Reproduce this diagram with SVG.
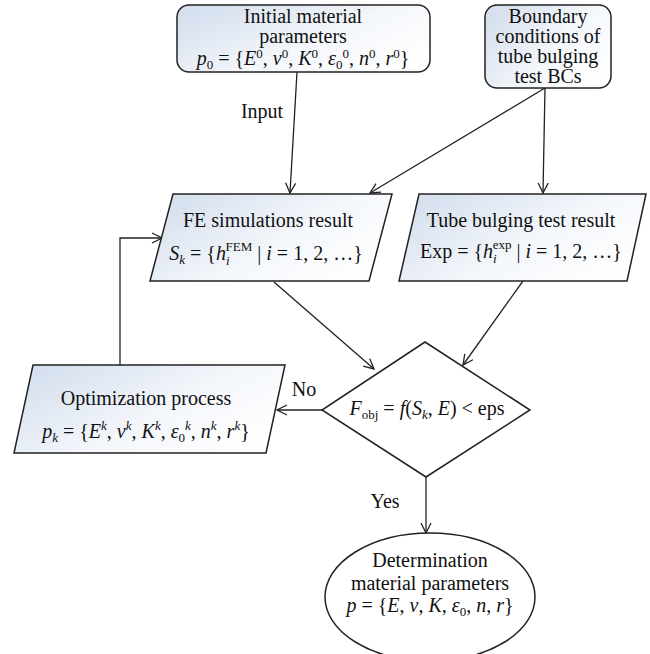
<svg xmlns="http://www.w3.org/2000/svg" width="650" height="654" viewBox="0 0 650 654">
  <defs>
    <linearGradient id="shade" x1="0" y1="0.2" x2="1" y2="0.8">
      <stop offset="0" stop-color="#d5dfee"/>
      <stop offset="0.55" stop-color="#f4f7fb"/>
      <stop offset="1" stop-color="#ffffff"/>
    </linearGradient>
    <marker id="arrow" viewBox="0 0 12 12" refX="11" refY="6" markerWidth="12" markerHeight="12" markerUnits="userSpaceOnUse" orient="auto">
      <path d="M1,1 L11,6 L1,11" fill="none" stroke="#222" stroke-width="1.3"/>
    </marker>
    <style>
      .box { fill: url(#shade); stroke: #222; stroke-width: 1.5; }
      .plain { fill: #ffffff; stroke: #222; stroke-width: 1.5; }
      .link { fill: none; stroke: #222; stroke-width: 1.3; marker-end: url(#arrow); }
      text { font-family: "Liberation Serif", "Times New Roman", serif; font-size: 20px; fill: #111; text-anchor: middle; }
      .i { font-style: italic; }
      .s { font-size: 13px; }
    </style>
  </defs>

  <!-- connectors -->
  <g id="connectors">
    <line class="link" x1="297" y1="72" x2="290" y2="193"/>
    <line class="link" x1="545" y1="88" x2="370" y2="193"/>
    <line class="link" x1="545" y1="88" x2="543" y2="193"/>
    <line class="link" x1="274" y1="282" x2="374" y2="369"/>
    <line class="link" x1="523" y1="281" x2="463" y2="365"/>
    <line class="link" x1="322" y1="410" x2="277" y2="410"/>
    <polyline class="link" points="120,365 120,238 162,238"/>
    <line class="link" x1="426" y1="477" x2="426" y2="533"/>
    <text x="262" y="118">Input</text>
    <text x="304" y="396">No</text>
    <text x="385" y="508">Yes</text>
  </g>

  <!-- initial parameters -->
  <g id="initial">
    <rect class="box" x="177" y="5" width="253" height="67" rx="12"/>
    <text x="303" y="23">Initial material</text>
    <text x="303" y="43">parameters</text>
    <text x="303" y="65"><tspan class="i">p</tspan><tspan class="s" baseline-shift="-4">0</tspan> = {<tspan class="i">E</tspan><tspan class="s" baseline-shift="7">0</tspan>, <tspan class="i">ν</tspan><tspan class="s" baseline-shift="7">0</tspan>, <tspan class="i">K</tspan><tspan class="s" baseline-shift="7">0</tspan>, <tspan class="i">ε</tspan><tspan class="s" baseline-shift="-4">0</tspan><tspan class="s" baseline-shift="7">0</tspan>, <tspan class="i">n</tspan><tspan class="s" baseline-shift="7">0</tspan>, <tspan class="i">r</tspan><tspan class="s" baseline-shift="7">0</tspan>}</text>
  </g>

  <!-- boundary conditions -->
  <g id="boundary">
    <rect class="box" x="485" y="5" width="126" height="83" rx="12"/>
    <text x="548" y="23">Boundary</text>
    <text x="548" y="43">conditions of</text>
    <text x="548" y="63">tube bulging</text>
    <text x="548" y="83">test BCs</text>
  </g>

  <!-- FE simulation result -->
  <g id="fe-result">
    <polygon class="box" points="173,194 392,194 369,281 150,281"/>
    <text x="268" y="227">FE simulations result</text>
    <text x="266" y="260"><tspan class="i">S</tspan><tspan class="s i" baseline-shift="-4">k</tspan> = {<tspan class="i">h</tspan><tspan class="s i" baseline-shift="-5">i</tspan><tspan class="s" dx="-4" baseline-shift="9">FEM</tspan> | <tspan class="i">i</tspan> = 1, 2, …}</text>
  </g>

  <!-- tube bulging test result -->
  <g id="test-result">
    <polygon class="box" points="419,194 646,194 627,281 399,281"/>
    <text x="521" y="227">Tube bulging test result</text>
    <text x="521" y="258">Exp = {<tspan class="i">h</tspan><tspan class="s i" baseline-shift="-5">i</tspan><tspan class="s" dx="-4" baseline-shift="9">exp</tspan> | <tspan class="i">i</tspan> = 1, 2, …}</text>
  </g>

  <!-- objective decision -->
  <g id="decision">
    <polygon class="plain" points="425,342 530,410 426,477 322,410"/>
    <text x="427" y="415"><tspan class="i">F</tspan><tspan class="s" baseline-shift="-4">obj</tspan> = <tspan class="i">f</tspan>(<tspan class="i">S</tspan><tspan class="s i" baseline-shift="-4">k</tspan>, <tspan class="i">E</tspan>) &lt; eps</text>
  </g>

  <!-- optimization process -->
  <g id="optimization">
    <polygon class="box" points="33,365 285,365 266,453 14,453"/>
    <text x="146" y="405">Optimization process</text>
    <text x="146" y="438"><tspan class="i">p</tspan><tspan class="s i" baseline-shift="-4">k</tspan> = {<tspan class="i">E</tspan><tspan class="s i" baseline-shift="8">k</tspan>, <tspan class="i">ν</tspan><tspan class="s i" baseline-shift="8">k</tspan>, <tspan class="i">K</tspan><tspan class="s i" baseline-shift="8">k</tspan>, <tspan class="i">ε</tspan><tspan class="s" baseline-shift="-4">0</tspan><tspan class="s i" baseline-shift="8">k</tspan>, <tspan class="i">n</tspan><tspan class="s i" baseline-shift="8">k</tspan>, <tspan class="i">r</tspan><tspan class="s i" baseline-shift="8">k</tspan>}</text>
  </g>

  <!-- determined parameters -->
  <g id="result">
    <ellipse class="plain" cx="430" cy="597" rx="105" ry="64"/>
    <text x="430" y="567">Determination</text>
    <text x="430" y="590">material parameters</text>
    <text x="430" y="612"><tspan class="i">p</tspan> = {<tspan class="i">E</tspan>, <tspan class="i">ν</tspan>, <tspan class="i">K</tspan>, <tspan class="i">ε</tspan><tspan class="s" baseline-shift="-4">0</tspan>, <tspan class="i">n</tspan>, <tspan class="i">r</tspan>}</text>
  </g>
</svg>
